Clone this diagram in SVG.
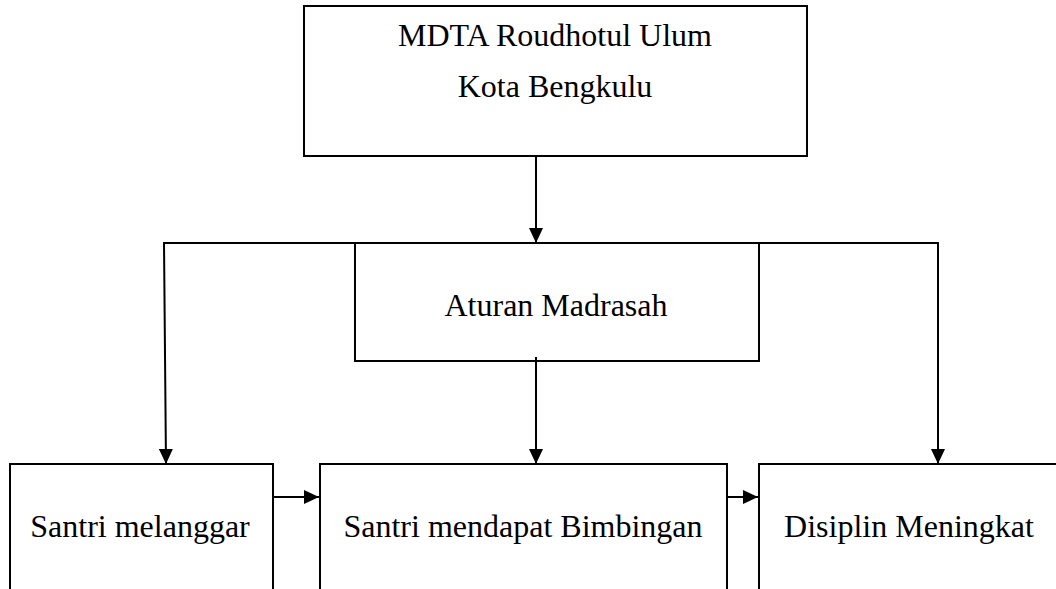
<svg xmlns="http://www.w3.org/2000/svg" width="1056" height="589" viewBox="0 0 1056 589">
<style>
.box{fill:#fff;stroke:#000;stroke-width:2}
.t{font-family:"Liberation Serif","Times New Roman",serif;font-size:32px;fill:#000;text-anchor:middle}
.c{fill:none;stroke:#000;stroke-width:2}
</style>
<defs>
<marker id="ah" markerWidth="15" markerHeight="14" refX="15" refY="7" orient="auto" markerUnits="userSpaceOnUse">
<path d="M0,0 L15,7 L0,14 Z" fill="#000"/>
</marker>
</defs>
<g id="n1"><rect class="box" x="304" y="6" width="503" height="150"/>
<text class="t" x="555" y="46">MDTA Roudhotul Ulum</text>
<text class="t" x="555" y="97">Kota Bengkulu</text></g>
<g id="n2"><rect class="box" x="355" y="243" width="404" height="118"/>
<text class="t" x="556" y="316">Aturan Madrasah</text></g>
<g id="n3"><rect class="box" x="10" y="464" width="263" height="140"/>
<text class="t" x="140" y="537">Santri melanggar</text></g>
<g id="n4"><rect class="box" x="320" y="464" width="407" height="140"/>
<text class="t" x="523" y="537">Santri mendapat Bimbingan</text></g>
<g id="n5"><rect class="box" x="759" y="464" width="300" height="140"/>
<text class="t" x="909" y="537">Disiplin Meningkat</text></g>
<g id="connectors">
<line class="c" x1="536" y1="156" x2="536" y2="243" marker-end="url(#ah)"/>
<polyline class="c" points="355,243 164,243 166,464" marker-end="url(#ah)"/>
<polyline class="c" points="759,243 938,243 938,464" marker-end="url(#ah)"/>
<line class="c" x1="536" y1="357" x2="536" y2="464" marker-end="url(#ah)"/>
<line class="c" x1="273" y1="497" x2="319" y2="497" marker-end="url(#ah)"/>
<line class="c" x1="727" y1="497" x2="758" y2="497" marker-end="url(#ah)"/>
</g>
</svg>
